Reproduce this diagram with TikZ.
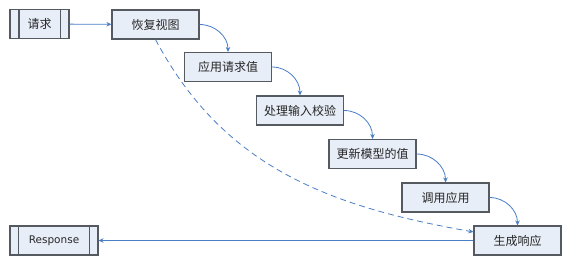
\documentclass[tikz,border=0pt]{standalone}
\usepackage{fontspec}
\setmainfont{DejaVu Sans}
\newfontfamily\cjk{Noto Sans CJK SC}
\usetikzlibrary{arrows.meta}
\definecolor{boxfill}{HTML}{E8EEF8}
\definecolor{boxline}{HTML}{555A60}
\definecolor{arrowblue}{HTML}{4A7EC4}
\tikzset{
  x=1pt, y=-1pt,
  stage/.style={draw=boxline, line width=1.1pt, fill=boxfill, minimum width=87pt, minimum height=29pt, inner sep=0pt, text=black!85, font=\cjk\fontsize{12}{14}\selectfont},
  termbox/.style={stage},
  flow/.style={draw=arrowblue, line width=0.8pt, -{Stealth[length=5pt,width=4.5pt]}},
  dashflow/.style={flow, dash pattern=on 6pt off 4pt}
}
\begin{document}
\begin{tikzpicture}
\useasboundingbox (0,0) rectangle (571,263);
\node[termbox, minimum width=59pt] (req) at (39.5,24) {请求};
\draw[boxline, line width=1.1pt] ([xshift=9.5pt]req.north west) -- ([xshift=9.5pt]req.south west);
\draw[boxline, line width=1.1pt] ([xshift=-9.5pt]req.north east) -- ([xshift=-9.5pt]req.south east);
\node[stage] (rv) at (155.5,24.5) {恢复视图};
\node[stage] (ap) at (228,67) {应用请求值};
\node[stage] (pv) at (300,110.5) {处理输入校验};
\node[stage] (um) at (372.5,154) {更新模型的值};
\node[stage] (ia) at (445.5,197.5) {调用应用};
\node[stage] (rr) at (517.5,240.5) {生成响应};
\node[termbox, minimum width=88pt, font=\fontsize{10.5}{12}\selectfont] (resp) at (54,240.5) {Response};
\draw[boxline, line width=1.1pt] ([xshift=9pt]resp.north west) -- ([xshift=9pt]resp.south west);
\draw[boxline, line width=1.1pt] ([xshift=-9pt]resp.north east) -- ([xshift=-9pt]resp.south east);
\draw[flow] (req) -- (rv);
\draw[flow] (rv.east) to[out=0,in=90] (ap.north);
\draw[flow] (ap.east) to[out=0,in=90] (pv.north);
\draw[flow] (pv.east) to[out=0,in=90] (um.north);
\draw[flow] (um.east) to[out=0,in=90] (ia.north);
\draw[flow] (ia.east) to[out=0,in=90] (rr.north);
\draw[dashflow] (rv.south) to[out=-62,in=170] (rr.169);
\draw[flow] (rr.west) -- (resp.east);
\end{tikzpicture}
\end{document}
